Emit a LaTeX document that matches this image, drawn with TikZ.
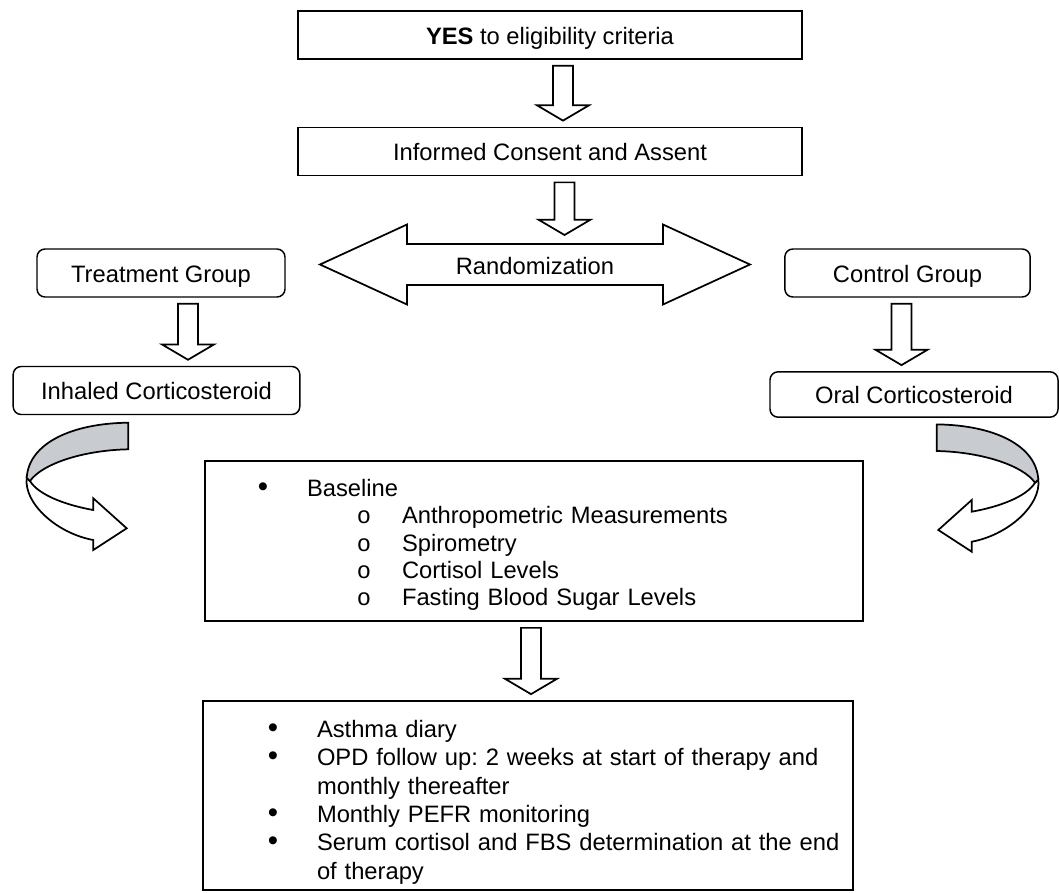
\documentclass[tikz,border=0pt]{standalone}
\usepackage{fontspec}
\setmainfont{Liberation Sans}
\newfontfamily\circfont{Liberation Mono}
\usepackage{tikz}
\usetikzlibrary{calc}
\frenchspacing
\definecolor{ribbon}{RGB}{200,204,208}
\tikzstyle{plainbox} =[rectangle, draw=black, line width=1.3pt, minimum width=378pt,
                        minimum height=36pt, text centered, text height=18pt, text depth=4pt]
\tikzstyle{groupbox} =[rectangle, draw=black, line width=1.1pt, rounded corners=6pt,
                        minimum height=36pt, text centered, text height=18pt, text depth=4pt]
\tikzstyle{listbox}  =[rectangle, draw=black, line width=1.3pt, inner sep=0pt, align=left]
\tikzstyle{blockline}=[draw=black, line width=1.3pt, fill=white, line join=miter]
\newcommand{\dotmark}{{\fontsize{22}{21}\selectfont\textbullet}}
% hollow down arrow from one node to the next (#3 = sideways offset)
\newcommand{\blockdown}[3]{%
  \draw[blockline] let \p1=($(#1)+(#3,0)$), \p2=(#2) in
    (\x1-7.5pt,\y1-4.5pt) -- (\x1+7.5pt,\y1-4.5pt) -- (\x1+7.5pt,\y2+16pt)
    -- (\x1+19.5pt,\y2+16pt) -- (\x1,\y2+4.5pt) -- (\x1-19.5pt,\y2+16pt)
    -- (\x1-7.5pt,\y2+16pt) -- cycle;}
\tikzset{
  pics/turnarrow/.style={code={
    \draw[blockline] (-100,-50.3) .. controls (-103,-25) and (-70,5) .. (-33.4,11.7)
      -- (-33.4,21.7) -- (0,0) -- (-33.4,-30) -- (-33.4,-18.3)
      .. controls (-60,-23) and (-88,-33) .. (-96.7,-47.3) -- cycle;
    \draw[blockline, fill=ribbon] (1.6,-105.6) .. controls (-55,-105) and (-98,-85) .. (-100,-50.3)
      -- (-96.7,-47.3) .. controls (-85,-64) and (-45,-78) .. (1.6,-79) -- cycle;
  }}
}

\begin{document}
\begin{tikzpicture}[x=0.75pt, y=-0.75pt,
    every node/.style={font=\fontsize{17.8}{21}\selectfont}]
  \useasboundingbox (0,0) rectangle (1059,892);

  % ── top of the flow ────────────────────────────────────────────────────────
  \node[plainbox] (yes)     at (550,35)    {\textbf{YES} to eligibility criteria};
  \node[plainbox] (consent) at (550,151.5) {Informed Consent and Assent};
  \node           (rand)    at (535,266)   {Randomization};
  \coordinate     (randin)  at ($(rand.center)+(29,-25)$);

  % ── the two groups ─────────────────────────────────────────────────────────
  \node[groupbox, minimum width=186pt] (treat)   at (161,273)   {Treatment Group};
  \node[groupbox, minimum width=215pt] (inhaled) at (156.5,390.5) {Inhaled Corticosteroid};
  \node[groupbox, minimum width=184pt] (control) at (907.5,273) {Control Group};
  \node[groupbox, minimum width=216pt, minimum height=34pt] (oral) at (914,394.5) {Oral Corticosteroid};

  % ── measurements and follow up ─────────────────────────────────────────────
  \node[listbox, text width=493.5pt, minimum height=120pt,
        font=\fontsize{17.8}{20.5}\selectfont] (base) at (534,541) {%
    \rule{0pt}{18.8pt}\hspace*{43.5pt}\makebox[0pt]{\dotmark}\hspace*{33pt}Baseline\\
    \hspace*{119.25pt}\makebox[0pt]{\circfont o}\hspace*{28.5pt}Anthropometric Measurements\\
    \hspace*{119.25pt}\makebox[0pt]{\circfont o}\hspace*{28.5pt}Spirometry\\
    \hspace*{119.25pt}\makebox[0pt]{\circfont o}\hspace*{28.5pt}Cortisol Levels\\
    \hspace*{119.25pt}\makebox[0pt]{\circfont o}\hspace*{28.5pt}Fasting Blood Sugar Levels};
  \node[listbox, text width=487.5pt, minimum height=141.75pt,
        font=\fontsize{17.8}{21.3}\selectfont] (follow) at (528,795.5) {%
    \rule{0pt}{23pt}\hspace*{52.5pt}\makebox[0pt]{\dotmark}\hspace*{33pt}Asthma diary\\
    \hspace*{52.5pt}\makebox[0pt]{\dotmark}\hspace*{33pt}OPD follow up: 2 weeks at start of therapy and\\
    \hspace*{85.5pt}monthly thereafter\\
    \hspace*{52.5pt}\makebox[0pt]{\dotmark}\hspace*{33pt}Monthly PEFR monitoring\\
    \hspace*{52.5pt}\makebox[0pt]{\dotmark}\hspace*{33pt}Serum cortisol and FBS determination at the end\\
    \hspace*{85.5pt}of therapy};

  % ── randomization double arrow ─────────────────────────────────────────────
  \draw[blockline, fill=none] (rand.center) ++(-215,-1.5) -- ++(87,-40) -- ++(0,19.5)
    -- ++(256,0) -- ++(0,-19.5) -- ++(87,40) -- ++(-87,40) -- ++(0,-19.5)
    -- ++(-256,0) -- ++(0,19.5) -- cycle;

  % ── block arrows ───────────────────────────────────────────────────────────
  \blockdown{yes.south}{consent.north}{13}
  \blockdown{consent.south}{randin}{14.5}
  \blockdown{treat.south}{inhaled.north}{27}
  \blockdown{control.south}{oral.north}{-6}
  \blockdown{base.south}{follow.north}{-3}

  % ── turning arrows into the baseline box ───────────────────────────────────
  \pic at (126.7,528.3) {turnarrow};
  \pic[xscale=-1] at (938.3,530) {turnarrow};

\end{tikzpicture}
\end{document}
